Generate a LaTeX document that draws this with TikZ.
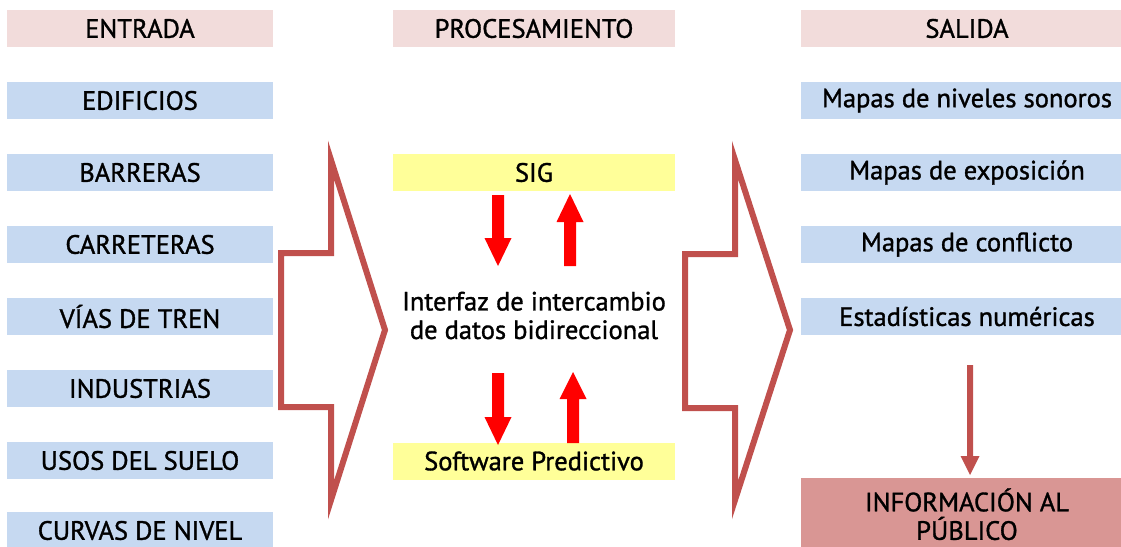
\documentclass[tikz,border=0pt]{standalone}
\usepackage{fontspec}
\setmainfont[FakeBold=1.2]{PT Sans}
\definecolor{hdrpink}{HTML}{F2DCDB}
\definecolor{itemblue}{HTML}{C6D9F1}
\definecolor{procyellow}{HTML}{FFFF99}
\definecolor{infored}{HTML}{D99694}
\definecolor{blockred}{HTML}{C0504D}
\definecolor{pureRed}{HTML}{FF0000}
\newcommand\dnarr[4]{% x, top, headstart, tip
  \fill[pureRed] (#1-6,#2) -- (#1+6,#2) -- (#1+6,#3) -- (#1+13.5,#3) -- (#1,#4) -- (#1-13.5,#3) -- (#1-6,#3) -- cycle;}
\newcommand\uparr[4]{% x, bottom, headbase, tip
  \fill[pureRed] (#1-6,#2) -- (#1+6,#2) -- (#1+6,#3) -- (#1+13.5,#3) -- (#1,#4) -- (#1-13.5,#3) -- (#1-6,#3) -- cycle;}
\tikzset{
  cell/.style={rectangle, minimum height=37pt, inner sep=0pt, align=center,
    font=\fontsize{26.5}{28.5}\selectfont, text=black},
  leftcell/.style={cell, minimum width=266pt},
  midcell/.style={cell, minimum width=282pt},
  rightcell/.style={cell, minimum width=332pt},
  hdr/.style={fill=hdrpink},
  item/.style={fill=itemblue},
  proc/.style={fill=procyellow},
  blockarrow/.style={draw=blockred, line width=6pt, line join=miter, miter limit=20},
}
\begin{document}
\begin{tikzpicture}[x=1pt,y=-1pt]
\useasboundingbox (0,0) rectangle (1121,546);
\clip (0,0) rectangle (1121,546);
% left column
\node[leftcell,hdr] (entrada) at (140,28.5) {ENTRADA};
\node[leftcell,item] (edif) at (140,100.5) {EDIFICIOS};
\node[leftcell,item] (barr) at (140,172.5) {BARRERAS};
\node[leftcell,item] (carr) at (140,244.5) {CARRETERAS};
\node[leftcell,item] (vias) at (140,316.5) {VÍAS DE TREN};
\node[leftcell,item] (indu) at (140,388.5) {INDUSTRIAS};
\node[leftcell,item] (usos) at (140,460.5) {USOS DEL SUELO};
\node[leftcell,item] (curv) at (140,530.5) {CURVAS DE NIVEL};
% middle column
\node[midcell,hdr] (proc) at (534,28.5) {PROCESAMIENTO};
\node[midcell,proc] (sig) at (534,172.5) {SIG};
\node[midcell,proc] (soft) at (534,461) {Software Predictivo};
\node[cell] (iface) at (534,315.5) {Interfaz de intercambio\\de datos bidireccional};
% right column
\node[rightcell,hdr] (salida) at (967,28.5) {SALIDA};
\node[rightcell,item] (mniv) at (967,100.5) {Mapas de niveles sonoros};
\node[rightcell,item] (mexp) at (967,172.5) {Mapas de exposición};
\node[rightcell,item] (mcon) at (967,244.5) {Mapas de conflicto};
\node[rightcell,item] (esta) at (967,316.5) {Estadísticas numéricas};
\node[cell, minimum width=332pt, minimum height=72pt, fill=infored, anchor=north] (info) at (967,478) {INFORMACIÓN AL\\PÚBLICO};
% big block arrows
\draw[blockarrow] (281,253) -- (331,253) -- (331,160) -- (385,330) -- (331,500) -- (331,407) -- (281,407) -- cycle;
\draw[blockarrow] (685,254) -- (735,254) -- (735,160) -- (790,330) -- (735,500) -- (735,408) -- (685,408) -- cycle;
% red exchange arrows
\dnarr{498}{195}{238}{266}
\uparr{570}{266}{222}{194}
\dnarr{498}{373}{417}{445}
\uparr{573}{443}{399}{372}
% arrow to public information
\fill[blockred] (967,365) -- (973,365) -- (973,456) -- (979.5,456) -- (970,475) -- (960.5,456) -- (967,456) -- cycle;
\end{tikzpicture}
\end{document}
